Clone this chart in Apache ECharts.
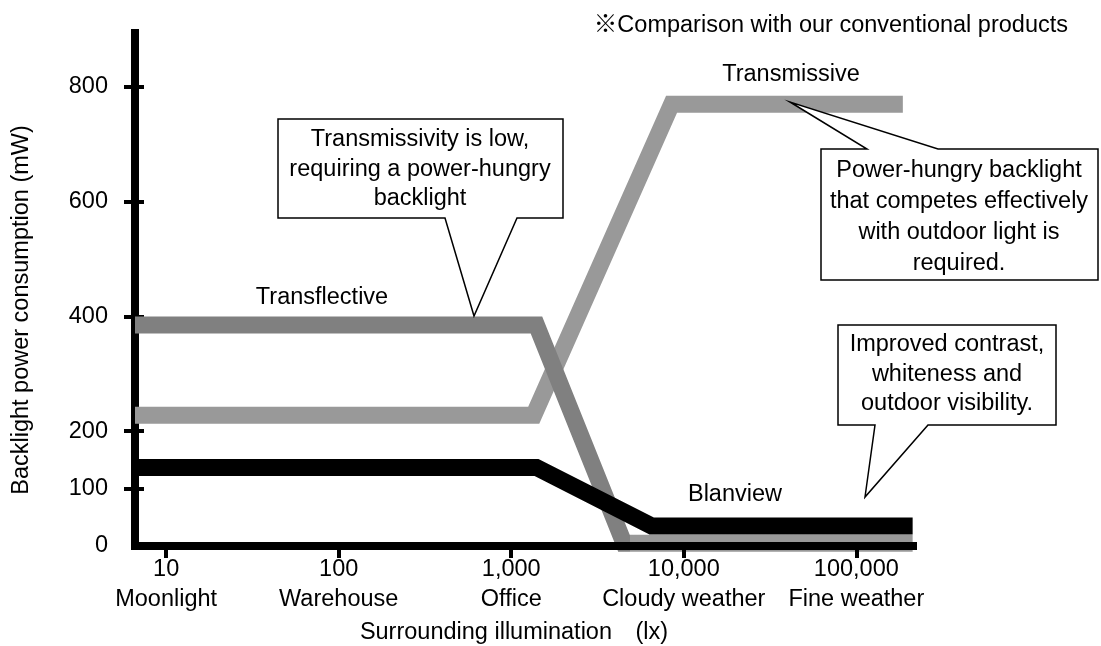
<!DOCTYPE html>
<html>
<head>
<meta charset="utf-8">
<title>Backlight power consumption</title>
<script src="https://cdn.jsdelivr.net/npm/echarts@6/dist/echarts.min.js"></script>
<style>
  html, body { margin: 0; padding: 0; background: #fff; }
  #chart { width: 1101px; height: 646px; }
</style>
</head>
<body>
<div id="chart"></div>
<script>
// x axis: illuminance in lx (log scale), y axis: backlight power in mW
const luxTicks = [10, 100, 1000, 10000, 100000];
const sceneNames = ['Moonlight', 'Warehouse', 'Office', 'Cloudy weather', 'Fine weather'];
const luxRange = [6.6, 213000];
const powerLabels = [0, 100, 200, 400, 600, 800];
const powerTickMarks = [100, 200, 400, 600, 800];
const powerRange = [0, 894];

const transmissiveLux = [6.6, 1350, 8500, 186000];
const transmissiveMw = [228, 228, 770, 770];
const transflectiveLux = [6.6, 1400, 4500, 212000];
const transflectiveMw = [385, 385, 5, 5];
const blanviewLux = [6.6, 1400, 6500, 212000];
const blanviewMw = [137, 137, 35, 35];

const FONT = "'Liberation Sans', Arial, 'Noto Sans CJK JP', sans-serif";
const FS = 23.5;

function lineSeries(name, lux, mw, color) {
  return {
    name: name,
    type: 'line',
    z: 1,
    data: lux.map((v, i) => [Math.log10(v), mw[i]]),
    symbol: 'none',
    silent: true,
    itemStyle: { color: color },
    lineStyle: { color: color, width: 17, cap: 'butt', join: 'miter' }
  };
}

function callout(points, cx, cy, lines, lh) {
  return [
    {
      type: 'polygon', z: 100,
      shape: { points: points },
      style: { fill: '#fff', stroke: '#000', lineWidth: 1.5 }
    },
    {
      type: 'text', z: 101, x: cx, y: cy,
      style: {
        text: lines.join('\n'), align: 'center', verticalAlign: 'middle',
        fontSize: FS, fontFamily: FONT, lineHeight: lh, fill: '#000'
      }
    }
  ];
}

function label(text, x, y, align, rotation) {
  return {
    type: 'text', z: 101, x: x, y: y, rotation: rotation || 0,
    style: {
      text: text, align: align || 'center', verticalAlign: 'middle',
      fontSize: FS, fontFamily: FONT, fill: '#000'
    }
  };
}

const chart = echarts.init(document.getElementById('chart'));

chart.setOption({
  animation: false,
  backgroundColor: '#fff',
  grid: { left: 135, right: 188, top: 33, bottom: 100, containLabel: false, outerBoundsMode: 'none' },
  xAxis: {
    type: 'value',
    min: Math.log10(luxRange[0]),
    max: Math.log10(luxRange[1]),
    z: 5,
    axisLine: { show: true, lineStyle: { color: '#000', width: 8, cap: 'square' } },
    axisTick: {
      show: true, length: 12,
      customValues: luxTicks.map(v => Math.log10(v)),
      lineStyle: { color: '#000', width: 4 }
    },
    axisLabel: {
      customValues: luxTicks.map(v => Math.log10(v)),
      margin: 9, color: '#000', fontSize: FS, fontFamily: FONT, lineHeight: 30,
      formatter: function (v) {
        const lux = Math.round(Math.pow(10, v));
        const i = luxTicks.indexOf(lux);
        return lux.toLocaleString('en-US') + '\n' + (sceneNames[i] || '');
      }
    },
    splitLine: { show: false },
    name: 'Surrounding illumination\u3000(lx)',
    nameLocation: 'middle',
    nameGap: 75,
    nameTextStyle: { color: '#000', fontSize: FS, fontFamily: FONT, padding: [0, 20, 0, 0] }
  },
  yAxis: [
    {
      type: 'value',
      min: powerRange[0], max: powerRange[1],
      axisLine: { show: true, lineStyle: { color: '#000', width: 8, cap: 'square' } },
      axisTick: {
        show: true, length: 11, customValues: powerTickMarks,
        lineStyle: { color: '#000', width: 4 }
      },
      axisLabel: {
        customValues: powerLabels, margin: 27,
        color: '#000', fontSize: FS, fontFamily: FONT
      },
      splitLine: { show: false }
    },
    {
      type: 'value',
      position: 'left',
      min: powerRange[0], max: powerRange[1],
      axisLine: { show: false },
      axisLabel: { show: false },
      splitLine: { show: false },
      axisTick: {
        show: true, inside: true, length: 9, customValues: powerTickMarks,
        lineStyle: { color: '#000', width: 4 }
      }
    }
  ],
  series: [
    lineSeries('Transmissive', transmissiveLux, transmissiveMw, '#999999'),
    lineSeries('Transflective', transflectiveLux, transflectiveMw, '#808080'),
    lineSeries('Blanview', blanviewLux, blanviewMw, '#000000')
  ],
  graphic: [
    label('Backlight power consumption (mW)', 22, 310, 'center', Math.PI / 2),
    label('\u203BComparison with our conventional products', 1068, 26, 'right'),
    label('Transflective', 322, 298),
    label('Transmissive', 791, 75),
    label('Blanview', 735, 495),
    ...callout([[278, 119], [563, 119], [563, 218], [517, 218], [474, 316], [445, 218], [278, 218]],
      420, 169.5, ['Transmissivity is low,', 'requiring a power-hungry', 'backlight'], 29.5),
    ...callout([[821, 149], [867, 149], [790, 102], [938, 149], [1098, 149], [1098, 280], [821, 280]],
      959, 217, ['Power-hungry backlight', 'that competes effectively', 'with outdoor light is', 'required.'], 31),
    ...callout([[838, 325], [1056, 325], [1056, 425], [928, 425], [865, 497], [875, 425], [838, 425]],
      947, 374.5, ['Improved contrast,', 'whiteness and', 'outdoor visibility.'], 29.5)
  ]
});

// the flat bottom part of the transflective curve is a lighter grey:
// split the stroke colour where the curve reaches the floor
const W = chart.getWidth();
const floorX = chart.convertToPixel({ xAxisIndex: 0 }, Math.log10(transflectiveLux[2])) + 6;
const split = Math.min(Math.max(floorX / W, 0), 1);
chart.setOption({
  series: [{}, {
    lineStyle: {
      color: new echarts.graphic.LinearGradient(0, 0, W, 0, [
        { offset: 0, color: '#808080' },
        { offset: split, color: '#808080' },
        { offset: split, color: '#999999' },
        { offset: 1, color: '#999999' }
      ], true)
    }
  }, {}]
});
</script>
</body>
</html>
